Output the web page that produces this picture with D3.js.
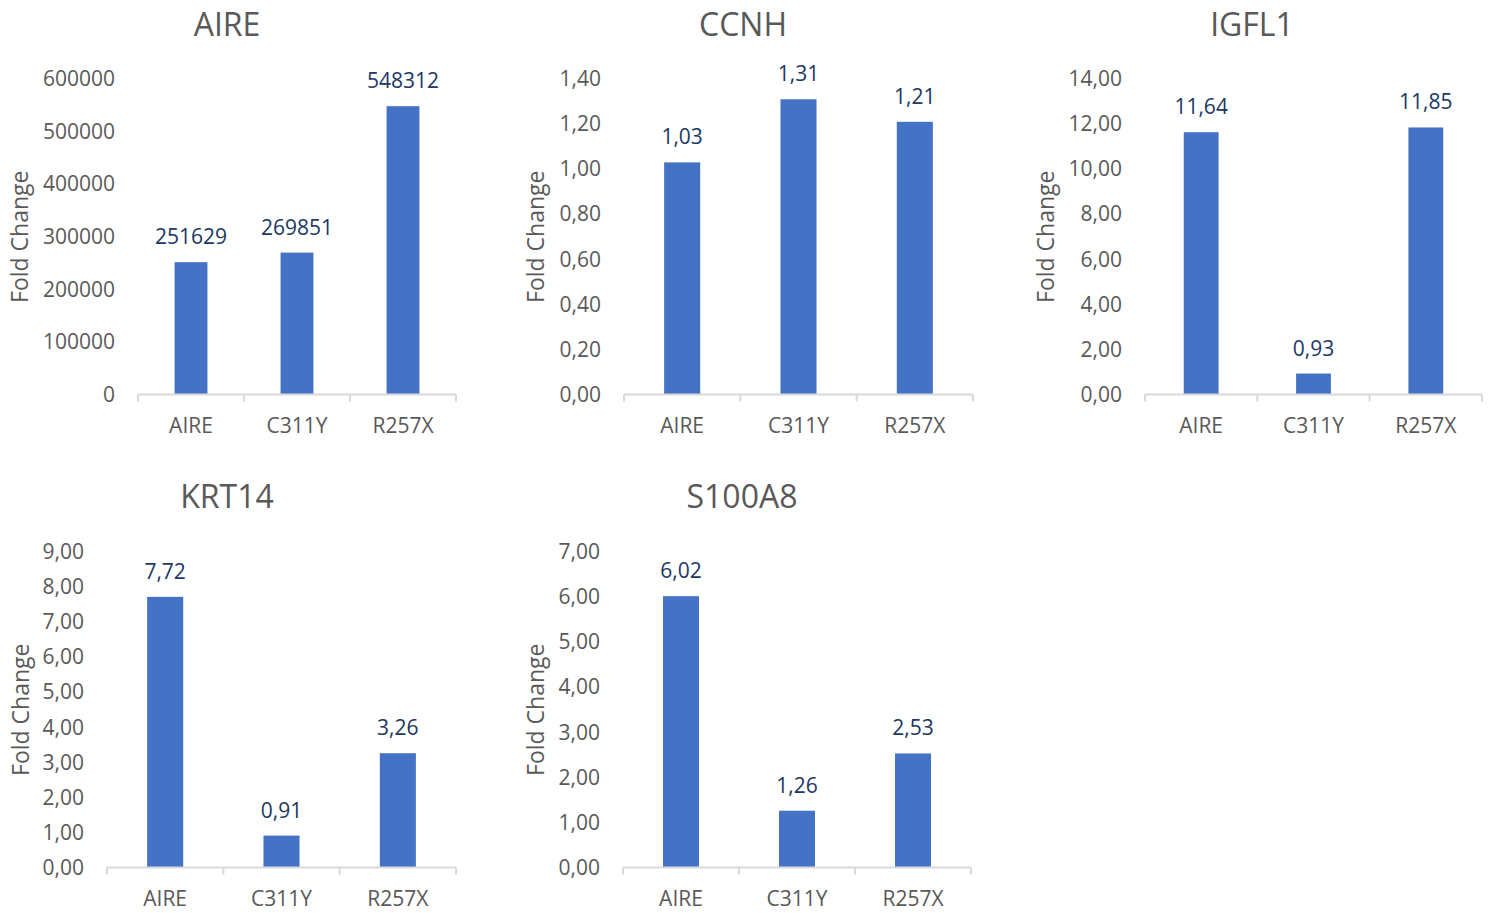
<!DOCTYPE html>
<html>
<head>
<meta charset="utf-8">
<script src="https://cdn.jsdelivr.net/npm/d3@7"></script>
<style>
  html, body { margin: 0; padding: 0; background: #ffffff; }
  svg { display: block; font-family: "Open Sans", sans-serif; }
</style>
</head>
<body>
<svg id="chart" width="1488" height="913"></svg>
<script>
// ---- Data ----
const categories = ["AIRE", "C311Y", "R257X"];
const genes = ["AIRE", "CCNH", "IGFL1", "KRT14", "S100A8"];

const aireValues   = [251629, 269851, 548312];
const ccnhValues   = [1.03, 1.31, 1.21];
const igfl1Values  = [11.64, 0.93, 11.85];
const krt14Values  = [7.72, 0.91, 3.26];
const s100a8Values = [6.02, 1.26, 2.53];

const aireTicks   = [0, 100000, 200000, 300000, 400000, 500000, 600000];
const ccnhTicks   = [0, 0.2, 0.4, 0.6, 0.8, 1.0, 1.2, 1.4];
const igfl1Ticks  = [0, 2, 4, 6, 8, 10, 12, 14];
const krt14Ticks  = [0, 1, 2, 3, 4, 5, 6, 7, 8, 9];
const s100a8Ticks = [0, 1, 2, 3, 4, 5, 6, 7];

const yAxisTitle = "Fold Change";

// ---- Layout (positions only) ----
const panels = [
  { title: genes[0], values: aireValues,   ticks: aireTicks,   fmt: "int", x0: 138,  x1: 456,  yTop: 79,  yBase: 394.5, titleX: 227,  titleY: 25,  axTitleX: 20 },
  { title: genes[1], values: ccnhValues,   ticks: ccnhTicks,   fmt: "dec", x0: 624,  x1: 973,  yTop: 79,  yBase: 394.5, titleX: 743,  titleY: 25,  axTitleX: 536 },
  { title: genes[2], values: igfl1Values,  ticks: igfl1Ticks,  fmt: "dec", x0: 1145, x1: 1482, yTop: 79,  yBase: 394.5, titleX: 1252, titleY: 25,  axTitleX: 1046 },
  { title: genes[3], values: krt14Values,  ticks: krt14Ticks,  fmt: "dec", x0: 107,  x1: 456,  yTop: 552, yBase: 867.5, titleX: 227,  titleY: 497, axTitleX: 21 },
  { title: genes[4], values: s100a8Values, ticks: s100a8Ticks, fmt: "dec", x0: 623,  x1: 971,  yTop: 552, yBase: 867.5, titleX: 742,  titleY: 497, axTitleX: 536 }
];

const barColor = "#4472C4";
const textGray = "#595959";
const labelNavy = "#203864";
const axisGray = "#D9D9D9";

const fmtDec = v => d3.format(".2f")(v).replace(".", ",");
const fmtInt = v => d3.format("d")(v);

const svg = d3.select("#chart");

panels.forEach(p => {
  const g = svg.append("g");
  const fmt = p.fmt === "int" ? fmtInt : fmtDec;

  const x = d3.scaleBand().domain(categories).range([p.x0, p.x1]).padding(0);
  const y = d3.scaleLinear()
    .domain([0, p.ticks[p.ticks.length - 1]])
    .range([p.yBase, p.yTop]);

  // Title
  g.append("text")
    .attr("x", p.titleX).attr("y", p.titleY)
    .attr("dy", "0.35em")
    .attr("text-anchor", "middle")
    .attr("fill", textGray)
    .style("font-size", "32px")
    .text(p.title);

  // Y axis (labels only, no line)
  const yAxis = d3.axisLeft(y).tickValues(p.ticks).tickFormat(fmt).tickSize(0).tickPadding(23);
  const ya = g.append("g").attr("transform", `translate(${p.x0},0)`).call(yAxis);
  ya.select(".domain").remove();
  ya.selectAll("text").attr("fill", textGray).style("font-size", "21px").style("font-family", "'Open Sans', sans-serif");

  // Y axis title
  g.append("text")
    .attr("transform", `translate(${p.axTitleX},${(p.yTop + p.yBase) / 2}) rotate(-90)`)
    .attr("dy", "0.35em")
    .attr("text-anchor", "middle")
    .attr("fill", textGray)
    .style("font-size", "23px")
    .text(yAxisTitle);

  // Bars
  const bw = x.bandwidth() * 0.31;
  g.selectAll("rect.bar")
    .data(p.values)
    .join("rect")
    .attr("class", "bar")
    .attr("x", (d, i) => x(categories[i]) + (x.bandwidth() - bw) / 2)
    .attr("y", d => y(d))
    .attr("width", bw)
    .attr("height", d => y(0) - y(d))
    .attr("fill", barColor);

  // Data labels
  g.selectAll("text.val")
    .data(p.values)
    .join("text")
    .attr("class", "val")
    .attr("x", (d, i) => x(categories[i]) + x.bandwidth() / 2)
    .attr("y", d => y(d) - 18)
    .attr("text-anchor", "middle")
    .attr("fill", labelNavy)
    .style("font-size", "21px")
    .text(d => fmt(d));

  // X axis: baseline line + boundary ticks
  g.append("line")
    .attr("x1", p.x0).attr("x2", p.x1)
    .attr("y1", p.yBase).attr("y2", p.yBase)
    .attr("stroke", axisGray).attr("stroke-width", 2);
  const bounds = categories.map(c => x(c)).concat([p.x1]);
  g.selectAll("line.tk")
    .data(bounds)
    .join("line")
    .attr("class", "tk")
    .attr("x1", d => d).attr("x2", d => d)
    .attr("y1", p.yBase).attr("y2", p.yBase + 7)
    .attr("stroke", axisGray).attr("stroke-width", 2);

  // Category labels
  g.selectAll("text.cat")
    .data(categories)
    .join("text")
    .attr("class", "cat")
    .attr("x", c => x(c) + x.bandwidth() / 2)
    .attr("y", p.yBase + 31)
    .attr("dy", "0.35em")
    .attr("text-anchor", "middle")
    .attr("fill", textGray)
    .style("font-size", "21px")
    .text(c => c);
});
</script>
</body>
</html>
